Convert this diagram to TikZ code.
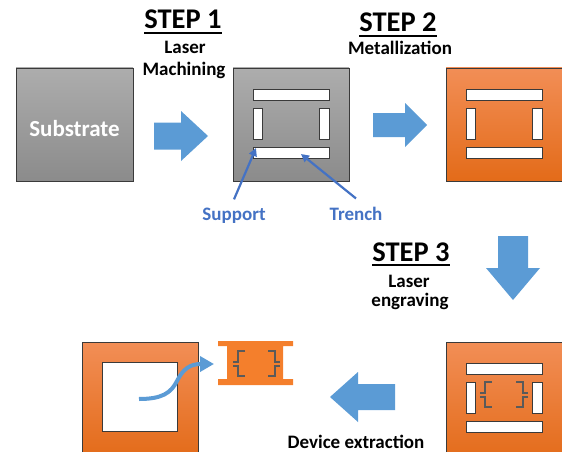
\documentclass[tikz,border=0pt]{standalone}
\usepackage{fontspec}
\setmainfont{Carlito}
\usepackage{tikz}
\usetikzlibrary{arrows.meta, calc}
\definecolor{subtop}{HTML}{ADADAD}
\definecolor{subbot}{HTML}{8B8B8B}
\definecolor{cutop}{HTML}{F28E56}
\definecolor{cumid}{HTML}{F47F2C}
\definecolor{cubot}{HTML}{E36B19}
\definecolor{blkblue}{HTML}{5B9BD5}
\definecolor{lblblue}{HTML}{4472C4}
\definecolor{edge}{HTML}{3A3A3A}
\definecolor{brk}{HTML}{5A5A5A}

% four openings cut into a plate, relative to its top left corner
\newcommand{\slots}[1]{%
  \begin{scope}[shift={(#1)}]
    \draw[slot] (20,21) rectangle (96,32);
    \draw[slot] (20,40) rectangle (29,71);
    \draw[slot] (86,40) rectangle (96,71);
    \draw[slot] (20,79) rectangle (96,90);
  \end{scope}}
% engraved brackets
\newcommand{\lbrk}[1]{\draw[brkline, shift={(#1)}] (12,0) -- (5,0) -- (5,11) -- (0,11) (0,15) -- (5,15) -- (5,25) -- (12,25);}
\newcommand{\rbrk}[1]{\draw[brkline, shift={(#1)}] (0,0) -- (7,0) -- (7,11) -- (12,11) (12,15) -- (7,15) -- (7,25) -- (0,25);}
% block arrow: tail, angle, shaft length, shaft half width, head length, head half width
\newcommand{\blockarrow}[6]{\fill[blkarrow, shift={(#1)}, rotate=#2] (0,-#4) -- (#3,-#4) -- (#3,-#6) -- ({#3+#5},0) -- (#3,#6) -- (#3,#4) -- (0,#4) -- cycle;}

\begin{document}
\begin{tikzpicture}[x=1pt, y=-1pt,
  plate/.style={draw=edge, line width=0.9pt, top color=subtop, bottom color=subbot},
  metal/.style={draw=edge, line width=0.9pt, top color=cutop, middle color=cumid, bottom color=cubot},
  slot/.style={draw=edge, line width=0.8pt, fill=white},
  brkline/.style={draw=brk, line width=2pt},
  blkarrow/.style={fill=blkblue},
  callout/.style={draw=lblblue, line width=2.2pt, -{Triangle[length=8pt,width=8pt]}},
  steptitle/.style={font=\bfseries\fontsize{28.5}{28.5}\selectfont, inner sep=0pt, anchor=base},
  sub/.style={font=\bfseries\fontsize{19}{19}\selectfont, inner sep=0pt, anchor=base},
  ul/.style={line width=1.6pt}]
\useasboundingbox (0,0) rectangle (562,452);
\clip (0,0) rectangle (562,452);

% corners of the plates
\coordinate (sub) at (16,68);
\coordinate (cut) at (233,68);
\coordinate (met) at (446,68);
\coordinate (eng) at (446,342);
\coordinate (out) at (82,342);

% plain substrate
\draw[plate] (sub) rectangle ++(117,113);
\node[font=\bfseries\fontsize{23}{23}\selectfont, white, anchor=base] (subtxt) at (74.5,136) {Substrate};

% after laser machining
\draw[plate] (cut) rectangle ++(116,113);
\slots{cut}

% after metallization
\draw[metal] (met) rectangle ++(118,113);
\slots{met}

% after engraving
\draw[metal] (eng) rectangle ++(118,120);
\slots{eng}
\lbrk{480,382}
\rbrk{516,382}

% frame left behind and the extracted device
\draw[metal] (out) rectangle ++(116,116);
\draw[slot] ($(out)+(20,20)$) rectangle ++(75,69);
\fill[cumid] (218,341) -- (293,341) -- (293,346) -- (283,346) -- (283,379) -- (293,379)
  -- (293,385) -- (218,385) -- (218,379) -- (227,379) -- (227,346) -- (218,346) -- cycle;
\lbrk{233,351}
\rbrk{268,351}
\coordinate (grab) at (139,399);
\coordinate (dev) at (214,364);
\draw[draw=blkblue, line width=4pt, -{Triangle[length=14pt,width=15pt]}]
  (grab) .. controls (162,399) and (171,393) .. (177,381)
  .. controls (183,369) and (190,364) .. (dev);

% process arrows
\blockarrow{154,136}{0}{27}{13.5}{27}{25}
\blockarrow{373,125}{0}{32}{12}{22}{22}
\blockarrow{513,236}{-90}{32}{15}{32}{27}
\blockarrow{395,397}{180}{37}{13}{28}{25}

% step titles
\node[steptitle] (s1) at (183,29) {STEP 1};
\draw[ul] ([yshift=-4pt]s1.base west) -- ([yshift=-4pt]s1.base east);
\node[sub] (s1a) at (185,53) {Laser};
\node[sub] (s1b) at (184,76) {Machining};

\node[steptitle] (s2) at (398,32) {STEP 2};
\draw[ul] ([yshift=-4pt]s2.base west) -- ([yshift=-4pt]s2.base east);
\node[sub] (s2a) at (400,55) {Metallization};

\node[steptitle] (s3) at (411,261) {STEP 3};
\draw[ul] ([yshift=-4pt]s3.base west) -- ([yshift=-4pt]s3.base east);
\node[sub] (s3a) at (409,287) {Laser};
\node[sub] (s3b) at (410,306) {engraving};

\node[sub, anchor=base] (ext) at (356,448) {Device extraction};

% labels for the machined features
\node[sub, lblblue] (sup) at (234,220) {Support};
\node[sub, lblblue] (tr) at (356,220) {Trench};
\coordinate (supTip) at (256,148);
\coordinate (trTip) at (301,154);
\draw[callout] ([yshift=8pt]sup.north) -- (supTip);
\draw[callout] ([yshift=8pt]tr.north) -- (trTip);
\end{tikzpicture}
\end{document}
